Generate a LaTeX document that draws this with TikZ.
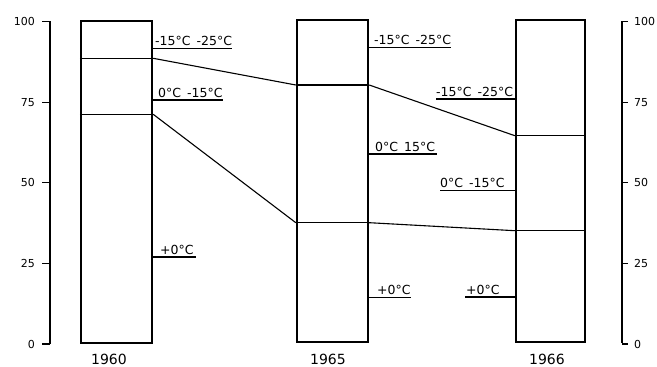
\documentclass[tikz,border=0pt]{standalone}
\usepackage{fontspec}
\setmainfont{DejaVu Sans}
\usepackage{tikz}

\begin{document}
\begin{tikzpicture}[x=1pt, y=1pt, every node/.style={
    inner xsep=0pt,
    inner ysep=2.6pt,
  },
  bar/.style={draw, line width=2.4pt, minimum width=71pt, minimum height=322pt, anchor=south},
  lab/.style={font=\fontsize{12.5}{12.5}\selectfont, anchor=south west},
  axlab/.style={font=\fontsize{11}{11}\selectfont},
  year/.style={font=\fontsize{14}{14}\selectfont, anchor=base, inner ysep=0pt},
  link/.style={line width=1.1pt}]

  \useasboundingbox (0,0) rectangle (657,367);

  % value axes, left and right
  \coordinate (lax0) at (50,23);
  \coordinate (lax1) at (50,346);
  \coordinate (rax0) at (622,24);
  \coordinate (rax1) at (622,346);
  \draw[line width=2.8pt] (lax0) -- (lax1);
  \draw[line width=2.8pt] (rax0) -- (rax1);
  \foreach \v in {0,25,50,75,100}{
    \node[axlab, anchor=east] (ll\v) at (35,23+3.225*\v) {\v};
    \node[axlab, anchor=west] (rl\v) at (634,23+3.225*\v) {\v};
    \draw[line width=1.2pt] (lax0 |- ll\v) -- ++(-8,0);
    \draw[line width=1.2pt] (rax0 |- rl\v) -- ++(6,0);
  }

  % bars
  \node[bar] (b60) at (116.5,23) {};
  \node[bar] (b65) at (332.5,23.5) {};
  \node[bar, minimum width=69pt] (b66) at (550.5,24) {};

  % dividers inside the bars
  \foreach \b/\n/\y in {b60/a/308.7, b60/b/252.7, b65/a/282, b65/b/144.3, b66/a/231.3, b66/b/136.3}{
    \draw[link] (\b.west |- 0,\y) coordinate (\b\n L) -- (\b.east |- 0,\y) coordinate (\b\n R);
  }

  \draw[link] (b60aR) -- (b65aL);
  \draw[link] (b60bR) -- (b65bL);
  \draw[link] (b65aR) -- (b66aL);
  \draw[link] (b65bR) -- (b66bL);

  % labels 1960
  \node[lab] (t60a) at (155,318.7) {-15°C\hspace{6pt}-25°C};
  \node[lab] (t60b) at (158,267) {0°C\hspace{6pt}-15°C};
  \node[lab] (t60c) at (160,110) {+0°C};
  \draw[link] (b60.east |- t60a.south) -- (t60a.south east);
  \draw[link] (b60.east |- t60b.south) -- (t60b.south east);
  \draw[link] (b60.east |- t60c.south) -- ([xshift=2pt]t60c.south east);

  % labels 1965
  \node[lab] (t65a) at (374,319.7) {-15°C\hspace{6pt}-25°C};
  \node[lab] (t65b) at (375,213) {0°C\hspace{6pt}15°C};
  \node[lab] (t65c) at (377,69.7) {+0°C};
  \draw[link] (b65.east |- t65a.south) -- (t65a.south east);
  \draw[link] (b65.east |- t65b.south) -- ([xshift=2pt]t65b.south east);
  \draw[link] (b65.east |- t65c.south) -- (t65c.south east);

  % labels 1966
  \node[lab] (t66a) at (436,268) {-15°C\hspace{6pt}-25°C};
  \node[lab] (t66b) at (440,176.3) {0°C\hspace{6pt}-15°C};
  \node[lab] (t66c) at (466,70) {+0°C};
  \draw[link] (t66a.south west) -- (b66.west |- t66a.south);
  \draw[link] (t66b.south west) -- (b66.west |- t66b.south);
  \draw[link] ([xshift=-1pt]t66c.south west) -- (b66.west |- t66c.south);

  % years
  \node[year] (y60) at (109,2.5) {1960};
  \node[year] (y65) at (328,2.5) {1965};
  \node[year] (y66) at (547,2.5) {1966};

\end{tikzpicture}
\end{document}
